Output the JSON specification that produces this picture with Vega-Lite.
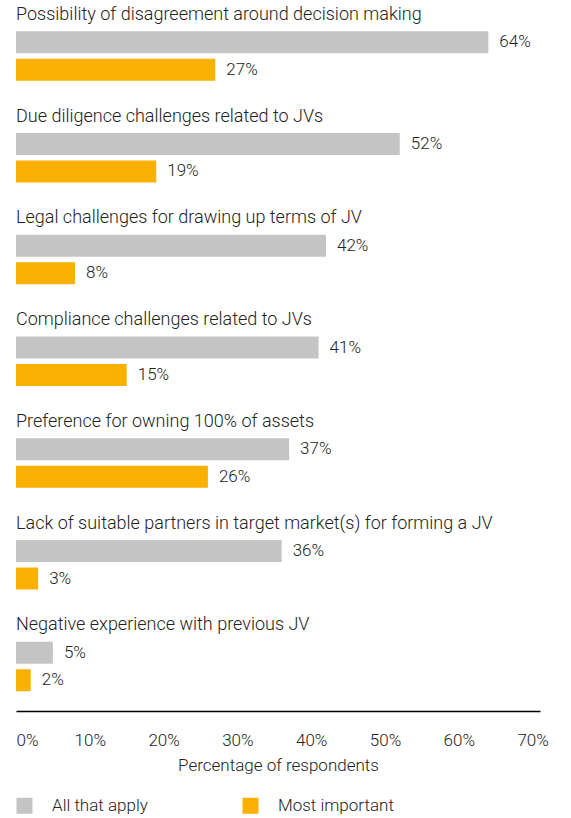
{
  "$schema": "https://vega.github.io/schema/vega-lite/v6.json",
  "width": 524,
  "height": 693,
  "padding": {"left": 16, "top": 1, "right": 31, "bottom": 5},
  "config": {"view": {"stroke": null}, "font": "Roboto"},
  "data": {"values": [
    {"category": "Possibility of disagreement around decision making", "series": "All that apply", "value": 0.64},
    {"category": "Possibility of disagreement around decision making", "series": "Most important", "value": 0.27},
    {"category": "Due diligence challenges related to JVs", "series": "All that apply", "value": 0.52},
    {"category": "Due diligence challenges related to JVs", "series": "Most important", "value": 0.19},
    {"category": "Legal challenges for drawing up terms of JV", "series": "All that apply", "value": 0.42},
    {"category": "Legal challenges for drawing up terms of JV", "series": "Most important", "value": 0.08},
    {"category": "Compliance challenges related to JVs", "series": "All that apply", "value": 0.41},
    {"category": "Compliance challenges related to JVs", "series": "Most important", "value": 0.15},
    {"category": "Preference for owning 100% of assets", "series": "All that apply", "value": 0.37},
    {"category": "Preference for owning 100% of assets", "series": "Most important", "value": 0.26},
    {"category": "Lack of suitable partners in target market(s) for forming a JV", "series": "All that apply", "value": 0.36},
    {"category": "Lack of suitable partners in target market(s) for forming a JV", "series": "Most important", "value": 0.03},
    {"category": "Negative experience with previous JV", "series": "All that apply", "value": 0.05},
    {"category": "Negative experience with previous JV", "series": "Most important", "value": 0.02}
  ]},
  "encoding": {
    "y": {
      "field": "category", "type": "nominal",
      "sort": null,
      "axis": null,
      "scale": {"paddingInner": 0.19, "paddingOuter": 0}
    }
  },
  "layer": [
    {
      "mark": {"type": "bar"},
      "encoding": {
        "x": {
          "field": "value", "type": "quantitative",
          "scale": {"domain": [0, 0.71], "nice": false},
          "axis": {
            "values": [0, 0.1, 0.2, 0.3, 0.4, 0.5, 0.6, 0.7],
            "format": ".0%",
            "grid": false, "ticks": false,
            "domainColor": "#000", "domainWidth": 1.5,
            "labelPadding": 21, "labelFontSize": 17, "labelFontWeight": 300, "labelColor": "#222",
            "title": "Percentage of respondents",
            "titleFontSize": 17, "titleFontWeight": 300, "titleColor": "#222",
            "titlePadding": 9,
            "offset": 17
          }
        },
        "yOffset": {
          "field": "series", "type": "nominal",
          "scale": {"domain": ["title", "All that apply", "Most important"], "paddingInner": 0.2, "paddingOuter": 0.1}
        },
        "color": {
          "field": "series", "type": "nominal",
          "scale": {"domain": ["All that apply", "Most important"], "range": ["#C4C4C4", "#F9B000"]},
          "legend": {
            "orient": "bottom", "title": null, "direction": "horizontal",
            "symbolType": "square", "symbolSize": 256, "symbolStrokeWidth": 0,
            "labelFontSize": 17, "labelFontWeight": 300, "labelColor": "#222", "labelOffset": 19,
            "columnPadding": 94, "offset": 24
          }
        }
      }
    },
    {
      "mark": {"type": "text", "align": "left", "baseline": "middle", "dx": 11, "fontSize": 17, "fontWeight": 300, "color": "#222"},
      "encoding": {
        "x": {"field": "value", "type": "quantitative"},
        "yOffset": {"field": "series", "type": "nominal"},
        "text": {"field": "value", "type": "quantitative", "format": ".0%"}
      }
    },
    {
      "transform": [{"filter": "datum.series === 'All that apply'"}],
      "mark": {"type": "text", "align": "left", "baseline": "middle", "fontSize": 18, "fontWeight": 300, "color": "#222"},
      "encoding": {
        "x": {"datum": 0},
        "yOffset": {"datum": "title"},
        "text": {"field": "category", "type": "nominal"}
      }
    }
  ]
}
